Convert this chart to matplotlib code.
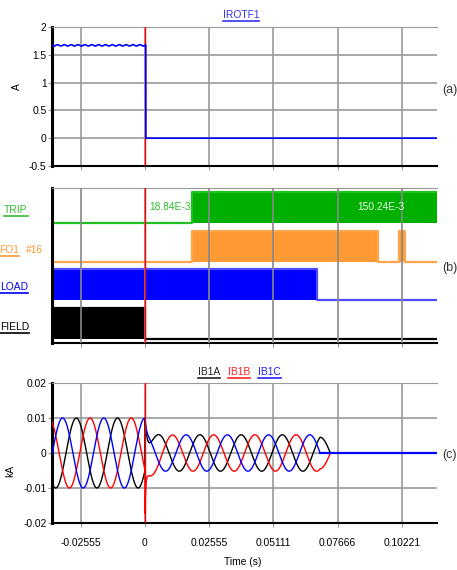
import numpy as np
import matplotlib
matplotlib.use('Agg')
import matplotlib.pyplot as plt
from matplotlib.lines import Line2D

plt.rcParams['font.family'] = ['Liberation Sans', 'DejaVu Sans']
plt.rcParams['font.size'] = 7.4

# time axis
X_TICKS = [-0.02555, 0.0, 0.02555, 0.05111, 0.07666, 0.10221]
X_TICK_LABELS = ['-0.02555', '0', '0.02555', '0.05111', '0.07666', '0.10221']
X_MIN, X_MAX = -0.0370, 0.1162
CURSOR_T = 0.0

# (a) IROTF1 rotor current (A)
IROTF1_LEVEL = 1.67
IROTF1_RIPPLE = 0.012
IROTF1_RIPPLE_HZ = 366.0
IROTF1_OFF_T = 0.0003
IROTF1_AFTER = 0.0

# (b) digital channels: switching times and states
SIG_LABELS = ['TRIP', 'FO1', 'LOAD', 'FIELD']
TRIP_T = [X_MIN, 0.01884, X_MAX]
TRIP_V = [0, 1, 1]
FO1_T = [X_MIN, 0.01884, 0.0926, 0.1009, 0.1033, X_MAX]
FO1_V = [0, 1, 0, 1, 0, 0]
LOAD_T = [X_MIN, 0.0686, X_MAX]
LOAD_V = [1, 0, 0]
FIELD_T = [X_MIN, 0.0, X_MAX]
FIELD_V = [1, 0, 0]
TRIP_TEXT = '18.84E-3'
TRIP_TEXT_T = 0.01884
TRIP_END_TEXT = '150.24E-3'
TRIP_END_TEXT_T = 0.0937

# (c) breaker currents IB1A/IB1B/IB1C (kA)
FREQ_HZ = 61.0
PHASE0_DEG = -30.0          # IB1C at its peak at t = 0
AMP_PRE = 0.0100
AMP_POST = 0.0052
# decaying offsets right after t = 0: (kA, time constant s)
OFFS_A = [(0.0125, 0.0010)]
OFFS_B = [(-0.0125, 0.0003), (-0.0030, 0.0030)]
OFFS_C = [(0.0050, 0.0005)]
OPEN_C_AFTER = 0.066        # phase C clears at its next current zero
Y_C_TICKS = [-0.02, -0.01, 0.0, 0.01, 0.02]
Y_C_LABELS = ['-0.02', '-0.01', '0', '0.01', '0.02']
Y_A_TICKS = [-0.5, 0, 0.5, 1, 1.5, 2]
Y_A_LABELS = ['-0.5', '0', '0.5', '1', '1.5', '2']

W, H = 457, 570
fig = plt.figure(figsize=(W / 100, H / 100), dpi=100)

def fpos(left, top, right, bottom):
    return [left / W, 1 - bottom / H, (right - left) / W, (bottom - top) / H]

GRID = '#9a9a9a'

def style(ax, show_xlabels=False):
    ax.set_xlim(X_MIN, X_MAX)
    ax.set_xticks(X_TICKS)
    if show_xlabels:
        ax.set_xticklabels(X_TICK_LABELS)
    else:
        ax.set_xticklabels([])
    ax.tick_params(axis='x', length=3, color=GRID, pad=8)
    ax.tick_params(axis='y', length=3, color=GRID, pad=1)
    ax.grid(True, color=GRID, lw=1.2)
    ax.spines['left'].set_color('black')
    ax.spines['left'].set_linewidth(2.2)
    ax.spines['bottom'].set_color('black')
    ax.spines['bottom'].set_linewidth(1.5)
    ax.spines['top'].set_color(GRID)
    ax.spines['right'].set_visible(False)
    ax.axvline(CURSOR_T, color='red', lw=1, zorder=5)

# ---------- (a)
ax1 = fig.add_axes(fpos(52, 27, 437, 166))
t = np.arange(X_MIN, X_MAX, 2e-5)
irotf = np.where(t < IROTF1_OFF_T,
                 IROTF1_LEVEL + IROTF1_RIPPLE * np.sin(2 * np.pi * IROTF1_RIPPLE_HZ * t),
                 IROTF1_AFTER)
ax1.plot(t, irotf, color='#0000ff', lw=1.2, zorder=6)
ax1.set_ylim(-0.5, 2)
ax1.set_yticks(Y_A_TICKS)
ax1.set_yticklabels(Y_A_LABELS)
style(ax1)
ax1.set_axisbelow(True)

# ---------- (b)
ax2 = fig.add_axes(fpos(52, 188, 437, 343))
sigs = [(FIELD_T, FIELD_V, 'black', 'black'),
        (LOAD_T, LOAD_V, '#0000ff', '#4d4dff'),
        (FO1_T, FO1_V, '#ff9933', '#ffa64d'),
        (TRIP_T, TRIP_V, '#00b000', '#22c022')]
for i, (ts, vs, fc, ec) in enumerate(sigs):
    base = i + 0.1
    top = base + 0.8 * np.array(vs)
    ax2.fill_between(ts, base, top, step='post', color=fc, lw=0, zorder=1)
    ax2.step(ts, top, where='post', color=ec, lw=1.6, zorder=2)
ax2.set_ylim(0, 4)
ax2.set_yticks([])
style(ax2)
ax2.grid(False)
for xt in X_TICKS:
    ax2.axvline(xt, color='#888888', lw=1.2, zorder=3)
ax2.text(TRIP_TEXT_T - 0.0008, 3.5, TRIP_TEXT, color='#33bb33', ha='right', va='center', zorder=6)
ax2.text(TRIP_END_TEXT_T, 3.5, TRIP_END_TEXT, color='#e8f8e8', ha='center', va='center', zorder=6)

# ---------- (c)
ax3 = fig.add_axes(fpos(52, 383, 437, 523))
th = 2 * np.pi * FREQ_HZ * t + np.radians(PHASE0_DEG)
amp = np.where(t < 0, AMP_PRE, AMP_POST)
ia = amp * np.sin(th)
ib = amp * np.sin(th - 2 * np.pi / 3)
ic = amp * np.sin(th + 2 * np.pi / 3)
after = t >= 0
for arr, offs in ((ia, OFFS_A), (ib, OFFS_B), (ic, OFFS_C)):
    for a0, tau in offs:
        arr[after] += a0 * np.exp(-t[after] / tau)
# pole C opens at a current zero, then A and B share one loop until their zero
k = np.where((t[1:] > OPEN_C_AFTER) & (np.sign(ic[1:]) != np.sign(ic[:-1])))[0][0] + 1
iab = (ia - ib) / 2
ic[k:] = 0.0
m = k + np.where(np.sign(iab[k + 1:]) != np.sign(iab[k:-1]))[0][0] + 1
ia[k:] = iab[k:]
ib[k:] = -iab[k:]
ia[m:] = 0.0
ib[m:] = 0.0
ax3.plot(t, ia, color='black', lw=1, zorder=3)
ax3.plot(t, ib, color='#ff0000', lw=1, zorder=3)
ax3.plot(t, ic, color='#0000ff', lw=1, zorder=3)
ic_tail = t >= t[k]
ax3.plot(t[ic_tail], ic[ic_tail], color='#0000ff', lw=1.6, zorder=4)
ax3.set_ylim(-0.02, 0.02)
ax3.set_yticks(Y_C_TICKS)
ax3.set_yticklabels(Y_C_LABELS)
style(ax3, show_xlabels=True)
ax3.set_axisbelow(True)

# ---------- figure texts
def ftext(x, y, s, **kw):
    return fig.text(x / W, 1 - y / H, s, **kw)

underlined = []
underlined.append(ftext(241, 15, 'IROTF1', color='#3333ee', ha='center', va='center'))
underlined.append(ftext(198, 372, 'IB1A', color='#222222', ha='left', va='center'))
underlined.append(ftext(228, 372, 'IB1B', color='#ff2222', ha='left', va='center'))
underlined.append(ftext(258, 372, 'IB1C', color='#2222ff', ha='left', va='center'))
underlined.append(ftext(4, 210, SIG_LABELS[0], color='#33bb33', ha='left', va='center'))
underlined.append(ftext(-1, 250, SIG_LABELS[1], color='#ff9933', ha='left', va='center'))
ftext(26, 250, '#16', color='#ff9933', ha='left', va='center')
underlined.append(ftext(0, 287, SIG_LABELS[2], color='#0000ee', ha='left', va='center'))
underlined.append(ftext(0, 327, SIG_LABELS[3], color='black', ha='left', va='center'))

ftext(17, 87, 'A', rotation=90, ha='center', va='center')
ftext(10, 471, 'kA', rotation=90, ha='center', va='center')
ftext(243, 562, 'Time (s)', ha='center', va='center')
for lab, y in (('(a)', 90), ('(b)', 268), ('(c)', 455)):
    ftext(442, y, lab, color='#333333', fontsize=9, ha='left', va='center')

fig.canvas.draw()
rend = fig.canvas.get_renderer()
for txt in underlined:
    bb = txt.get_window_extent(rend)
    y = (bb.y0 - 1.0) / H
    fig.add_artist(Line2D([max(bb.x0, 0) / W, bb.x1 / W], [y, y],
                          transform=fig.transFigure, color=txt.get_color(), lw=1.2))

fig.savefig('out.png', dpi=100)
